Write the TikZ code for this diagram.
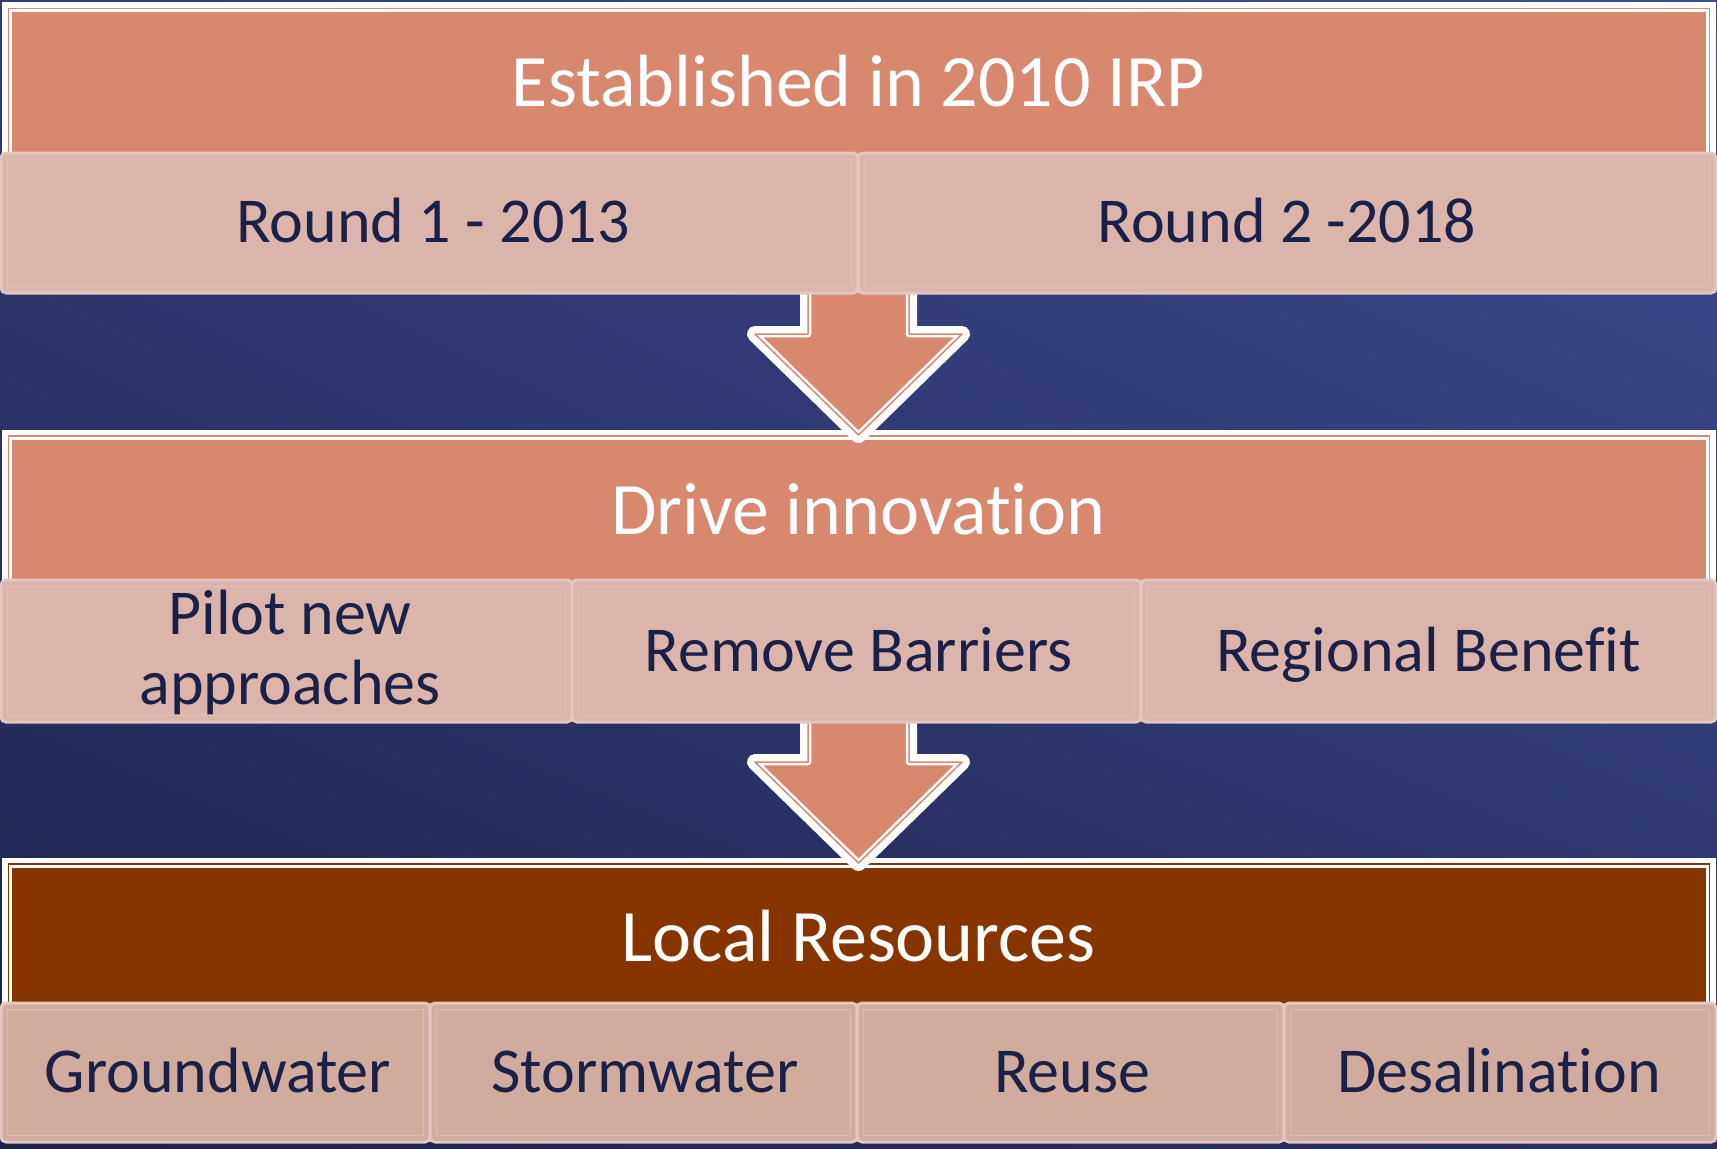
\documentclass[tikz,border=0pt]{standalone}
\usepackage{fontspec}
\setmainfont{Carlito}[Ligatures={NoCommon,NoDiscretionary},Contextuals=NoAlternate]
\usetikzlibrary{calc,shadings}
\definecolor{bgUL}{HTML}{323A74}
\definecolor{bgUR}{HTML}{3F4C96}
\definecolor{bgLL}{HTML}{1E234D}
\definecolor{bgLR}{HTML}{2A3264}
\definecolor{salmon}{HTML}{D98870}
\definecolor{brownhead}{HTML}{863400}
\definecolor{subfill}{HTML}{DBB5AC}
\definecolor{subfilldark}{HTML}{D2AB9F}
\definecolor{subedge}{HTML}{E2C6BF}
\definecolor{navytext}{HTML}{1B2046}
\tikzset{
  frame/.style={rectangle, inner sep=0pt, fill=#1,
    preaction={draw=white, line width=6.5pt},
    postaction={draw=white, line width=3.5pt},
    postaction={draw=#1, line width=0.75pt}},
  blockarrow/.style={fill=salmon, line join=round,
    preaction={draw=white, line width=8pt, line join=round},
    postaction={draw=white, line width=3.25pt, line join=round},
    postaction={draw=salmon, line width=0.75pt, line join=round}},
  subbox/.style={rectangle, inner sep=0pt, fill=#1, draw=subedge,
    line width=1.5pt, rounded corners=2.5pt},
  subinner/.style={draw=subedge, line width=0.5pt, opacity=0.6},
  headtext/.style={text=white, font=\fontsize{37}{44}\selectfont,
    anchor=base, inner sep=0pt},
  subtext/.style={text=navytext, font=\fontsize{32}{35}\selectfont,
    anchor=base, inner sep=0pt, align=center},
}
\begin{document}
\begin{tikzpicture}[x=0.5pt,y=-0.5pt]
\useasboundingbox (0,0) rectangle (1717,1148);
\shade[upper left=bgUL, upper right=bgUR, lower left=bgLL, lower right=bgLR]
  (0,0) rectangle (1717,1148);

% header frames
\node[frame=salmon, minimum width=850.5pt, minimum height=95.75pt] (f1) at (859,104.25) {};
\node[frame=salmon, minimum width=850.5pt, minimum height=96pt] (f2) at (859,532) {};
\node[frame=brownhead, minimum width=850.5pt, minimum height=98pt] (f3) at (859,962) {};

% block arrows
\coordinate (tip1) at (858.5,435);
\coordinate (tip2) at (858.5,863);
\foreach \t in {tip1,tip2}{
  \path[blockarrow] ($(\t)+(-50.5,-165)$) -- ($(\t)+(-50.5,-101)$) -- ($(\t)+(-103.5,-101)$)
    -- (\t) -- ($(\t)+(103.5,-101)$) -- ($(\t)+(50.5,-101)$) -- ($(\t)+(50.5,-165)$) -- cycle;
}

% header texts
\node[headtext] (h1) at (858.5,106) {Established in 2010 IRP};
\node[headtext] (h2) at (858.5,534) {Drive innovation};
\node[headtext] (h3) at (858.5,961) {Local Resources};

% sub boxes row 1
\node[subbox=subfill, minimum width=428.5pt, minimum height=70pt] (r1a) at (429.5,223) {};
\node[subbox=subfill, minimum width=429pt, minimum height=70pt] (r1b) at (1287,223) {};
% row 2
\node[subbox=subfill, minimum width=285.5pt, minimum height=71pt] (r2a) at (286.5,651) {};
\node[subbox=subfill, minimum width=284.5pt, minimum height=71pt] (r2b) at (856.5,651) {};
\node[subbox=subfill, minimum width=287.5pt, minimum height=71pt] (r2c) at (1428.5,651) {};
% row 3
\node[subbox=subfilldark, minimum width=214.5pt, minimum height=69.5pt] (r3a) at (215.5,1072.5) {};
\node[subbox=subfilldark, minimum width=213.5pt, minimum height=69.5pt] (r3b) at (643.5,1072.5) {};
\node[subbox=subfilldark, minimum width=213.5pt, minimum height=69.5pt] (r3c) at (1070.5,1072.5) {};
\node[subbox=subfilldark, minimum width=216pt, minimum height=69.5pt] (r3d) at (1500,1072.5) {};

\foreach \n in {r1a,r1b,r2a,r2b,r2c,r3a,r3b,r3c,r3d}{
  \draw[subinner] ($(\n.north west)+(8,8)$) rectangle ($(\n.south east)+(-8,-8)$);
}

% sub texts
\node[subtext] (t1a) at (433,242) {Round 1 - 2013};
\node[subtext] (t1b) at (1287,242) {Round 2 -2018};
\node[subtext] (t2a) at (290,704) {Pilot new\\approaches};
\node[subtext] (t2b) at (858.5,671) {Remove Barriers};
\node[subtext] (t2c) at (1428.5,671) {Regional Benefit};
\node[subtext] (t3a) at (218,1092) {Groundwater};
\node[subtext] (t3b) at (645,1092) {Stormwater};
\node[subtext] (t3c) at (1072,1092) {Reuse};
\node[subtext] (t3d) at (1499,1092) {Desalination};
\end{tikzpicture}
\end{document}
